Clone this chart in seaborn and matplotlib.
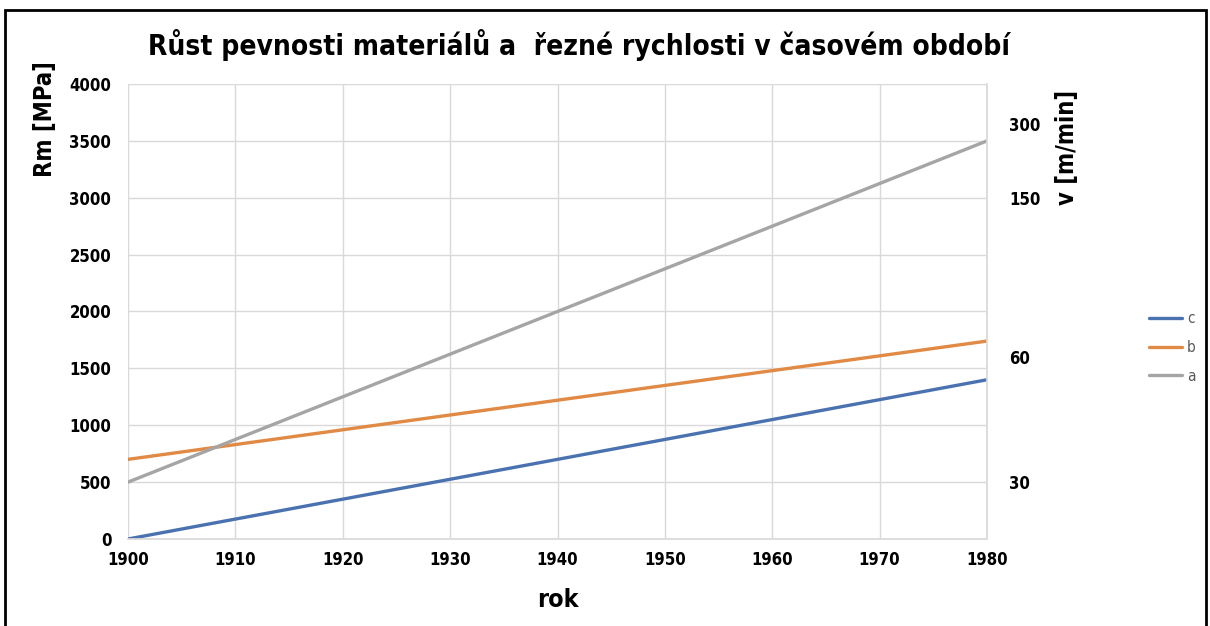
import matplotlib
matplotlib.use("Agg")
import matplotlib.pyplot as plt
import seaborn as sns
import pandas as pd
from matplotlib.patches import Rectangle

years = [1900, 1980]
series_c = [0, 1400]
series_b = [700, 1740]
series_a = [500, 3500]
series_names = ["c", "b", "a"]
colors = ["#4A72B0", "#E08A45", "#A5A5A5"]
x_ticks = [1900, 1910, 1920, 1930, 1940, 1950, 1960, 1970, 1980]
y_ticks = [0, 500, 1000, 1500, 2000, 2500, 3000, 3500, 4000]
v_labels = ["30", "60", "150", "300"]
v_positions = [500, 1600, 3000, 3650]

sns.set_theme(style="white")
plt.rcParams['font.family'] = ['DejaVu Sans']
plt.rcParams['font.stretch'] = 'condensed'
plt.rcParams['text.color'] = 'black'
plt.rcParams['xtick.color'] = 'black'
plt.rcParams['ytick.color'] = 'black'
plt.rcParams['axes.labelcolor'] = 'black'

df = pd.DataFrame({
    "rok": years * 3,
    "Rm": series_c + series_b + series_a,
    "serie": [n for n in series_names for _ in years],
})

fig = plt.figure(figsize=(12.1, 6.26), dpi=100)
ax = fig.add_axes([0.1058, 0.139, 0.7099, 0.7268])

sns.lineplot(data=df, x="rok", y="Rm", hue="serie", hue_order=series_names,
             palette=colors, linewidth=2.4, ax=ax, legend=False)

ax.set_xlim(1900, 1980)
ax.set_ylim(0, 4000)
ax.set_xticks(x_ticks)
ax.set_yticks(y_ticks)
ax.grid(True, color="#D9D9D9", linewidth=1)
for s in ["top", "left"]:
    ax.spines[s].set_visible(False)
ax.spines["bottom"].set_color("#D9D9D9")
ax.spines["right"].set_color("#D9D9D9")
ax.tick_params(axis="both", length=0, labelsize=12)
for lbl in ax.get_xticklabels() + ax.get_yticklabels():
    lbl.set_fontweight("bold")
ax.tick_params(axis="x", pad=9)
ax.tick_params(axis="y", pad=12)

ax.set_xlabel("rok", fontsize=18, fontweight="bold", labelpad=13)
ax.set_ylabel("")
fig.text(0.037, 0.81, "Rm [MPa]", rotation=90, fontsize=17, fontweight="bold",
         ha="center", va="center")
fig.text(0.882, 0.765, "v [m/min]", rotation=90, fontsize=17, fontweight="bold",
         ha="center", va="center")

ax2 = ax.twinx()
ax2.set_ylim(0, 4000)
ax2.set_yticks(v_positions)
ax2.set_yticklabels(v_labels)
ax2.tick_params(axis="y", length=0, labelsize=12, pad=16)
for lbl in ax2.get_yticklabels():
    lbl.set_fontweight("bold")
for s in ["top", "left", "bottom", "right"]:
    ax2.spines[s].set_visible(False)
ax2.grid(False)

fig.suptitle("Růst pevnosti materiálů a  řezné rychlosti v časovém období",
             x=0.4785, y=0.928, va="center", fontsize=20.2, fontweight="bold")

handles = [plt.Line2D([], [], color=c, linewidth=2.4) for c in colors]
fig.legend(handles, series_names, loc="center left", bbox_to_anchor=(0.938, 0.445),
           frameon=False, fontsize=11, labelcolor="#595959", handlelength=2.2,
           handletextpad=0.3, labelspacing=0.9)

fig.patches.append(Rectangle((0.004, -0.05), 0.993, 1.034, transform=fig.transFigure,
                             fill=False, edgecolor="black", linewidth=2))

fig.savefig("out.png", dpi=100)
